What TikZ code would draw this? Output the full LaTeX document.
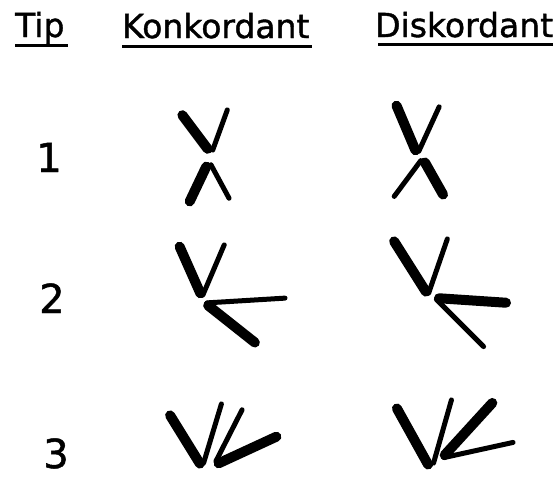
\documentclass[tikz,border=0pt]{standalone}
\usepackage{fontspec}
\setmainfont{DejaVu Sans}
\newfontfamily\letterfont[FakeBold=1.2]{DejaVu Sans}
\usepackage{tikz}

\tikzset{
    heavy/.style={line width=10pt, line cap=round, shorten <=4pt, shorten >=4pt},
    light/.style={line width=5pt, line cap=round, shorten <=2pt, shorten >=2pt},
    rule/.style={line width=3pt},
    head/.style={inner sep=0pt, anchor=base west, font=\letterfont\fontsize{33}{40}\selectfont},
    rowno/.style={inner sep=0pt, anchor=base, font=\letterfont\fontsize{40}{48}\selectfont},
}

\begin{document}
\begin{tikzpicture}[x=1pt, y=-1pt]
    \useasboundingbox (0,0) rectangle (557,477);

    \node[head] (tip) at (15,37) {Tip};
    \node[head] (kon) at (122,38) {Konkordant};
    \node[head] (dis) at (375,37) {Diskordant};

    \draw[rule] ([yshift=-8pt]tip.base west) -- ([xshift=3pt,yshift=-8pt]tip.base east);
    \draw[rule] ([yshift=-8pt]kon.base west) -- ([xshift=2pt,yshift=-8pt]kon.base east);
    \draw[rule] ([xshift=3pt,yshift=-7pt]dis.base west) -- ([yshift=-7pt]dis.base east);

    \node[rowno] (r1) at (49,172) {1};
    \node[rowno] (r2) at (52,313) {2};
    \node[rowno] (r3) at (56,468) {3};

    % type 1
    \draw[heavy] (180,112) -- (210,152);
    \draw[light] (228,108) -- (212,152);
    \draw[heavy] (208,163) -- (188,205);
    \draw[light] (210,163) -- (230,200);

    \draw[heavy] (395,102) -- (417,154);
    \draw[light] (440,105) -- (418,153);
    \draw[light] (422,159) -- (393,198);
    \draw[heavy] (423,159) -- (445,198);

    % type 2
    \draw[heavy] (178,243) -- (202,297);
    \draw[light] (225,243) -- (202,297);
    \draw[light] (205,303) -- (287,298);
    \draw[heavy] (205,303) -- (258,345);

    \draw[heavy] (392,238) -- (428,295);
    \draw[light] (448,237) -- (428,295);
    \draw[heavy] (435,298) -- (510,303);
    \draw[light] (435,298) -- (485,348);

    % type 3
    \draw[heavy] (168,412) -- (202,467);
    \draw[light] (222,402) -- (203,465);
    \draw[light] (243,408) -- (215,463);
    \draw[heavy] (280,435) -- (215,465);

    \draw[heavy] (395,405) -- (430,468);
    \draw[light] (452,398) -- (433,465);
    \draw[heavy] (495,400) -- (442,458);
    \draw[light] (515,442) -- (442,458);
\end{tikzpicture}
\end{document}
